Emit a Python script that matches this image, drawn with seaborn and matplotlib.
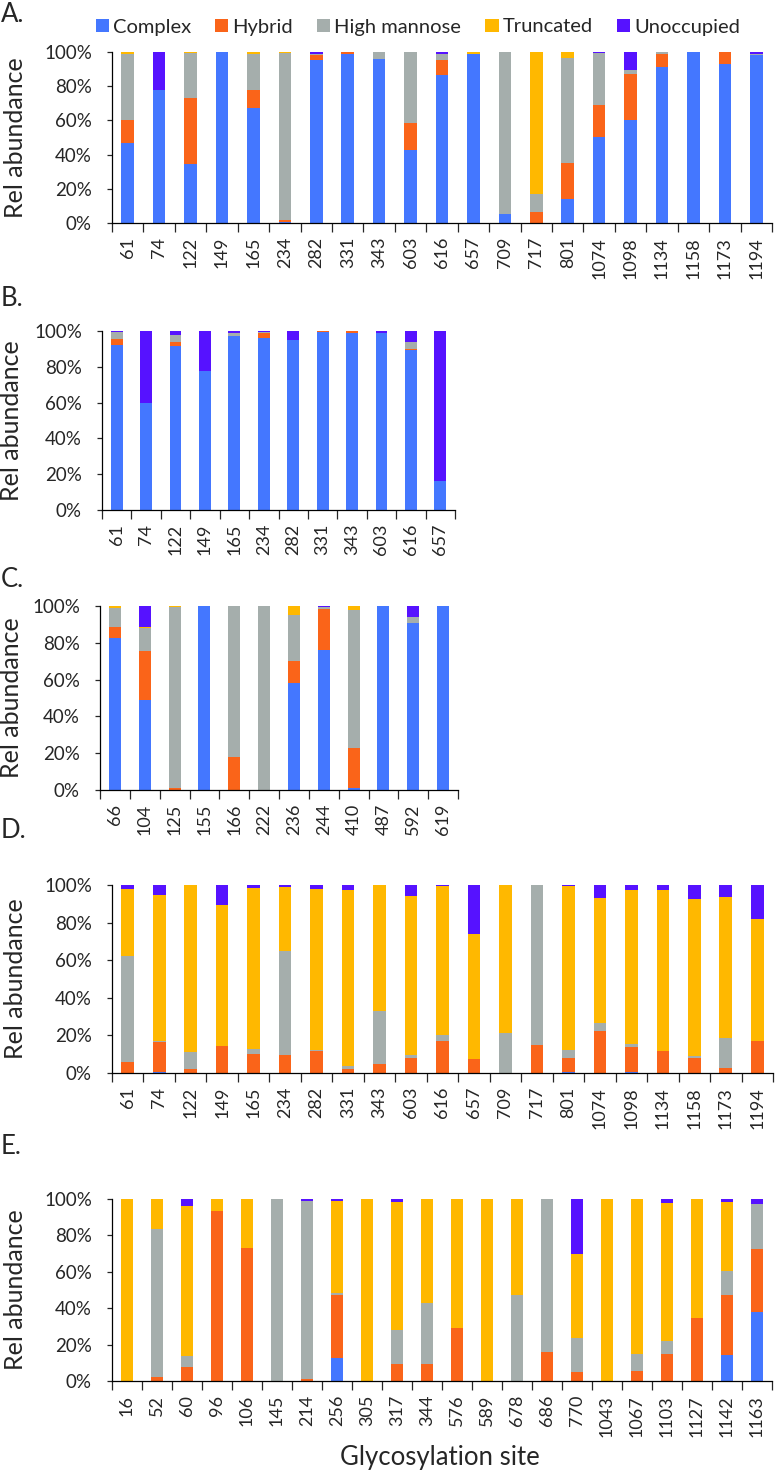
import numpy as np
import pandas as pd
import seaborn as sns
import matplotlib
matplotlib.use('Agg')
import matplotlib.pyplot as plt
from matplotlib.patches import Patch

sns.set_style('ticks')
plt.rcParams['font.family'] = ['Lato', 'DejaVu Sans']

cats = ['Complex', 'Hybrid', 'High mannose', 'Truncated', 'Unoccupied']
colors = {'Complex': '#4477FF', 'Hybrid': '#FA6419', 'High mannose': '#A5AEAC',
          'Truncated': '#FFB800', 'Unoccupied': '#5612FF'}

# panel A
sites_a = [61, 74, 122, 149, 165, 234, 282, 331, 343, 603, 616, 657, 709, 717, 801,
           1074, 1098, 1134, 1158, 1173, 1194]
complex_a = [47, 78, 34.5, 100, 67.5, 0.5, 95.5, 98.6, 96, 42.5, 86.5, 99, 5.5, 0, 14,
             50.5, 60.5, 91, 100, 93, 98]
hybrid_a = [13, 0, 38.5, 0, 10.5, 1.5, 2.5, 1.4, 0, 16, 9, 0, 0, 6.5, 21,
            18.5, 26.5, 8, 0, 7, 0]
highman_a = [39, 0, 26.5, 0, 21, 97.4, 1, 0, 4, 41.5, 3.5, 0, 94.5, 10.5, 61.7,
             30.5, 2.3, 1, 0, 0, 1]
trunc_a = [1, 0, 0.5, 0, 1, 0.6, 0, 0, 0, 0, 0, 1, 0, 83, 3.3, 0, 0, 0, 0, 0, 0]
unocc_a = [0, 22, 0, 0, 0, 0, 1, 0, 0, 0, 1, 0, 0, 0, 0, 0.5, 10.7, 0, 0, 0, 1]

# panel B
sites_b = [61, 74, 122, 149, 165, 234, 282, 331, 343, 603, 616, 657]
complex_b = [92, 60, 91.5, 77.5, 97, 96.3, 94.8, 99.6, 98.9, 99.1, 89.6, 16]
hybrid_b = [3.8, 0, 2.5, 0, 0, 2.4, 0, 0.4, 1.1, 0, 0.5, 0]
highman_b = [3.8, 0, 4, 0, 1.7, 0.6, 0.4, 0, 0, 0, 3.8, 0]
trunc_b = [0, 0, 0, 0, 0, 0, 0, 0, 0, 0, 0, 0]
unocc_b = [0.4, 40, 2, 22.5, 1.3, 0.7, 4.8, 0, 0, 0.9, 6.1, 84]

# panel C
sites_c = [66, 104, 125, 155, 166, 222, 236, 244, 410, 487, 592, 619]
complex_c = [82.8, 48.8, 0, 100, 0, 0, 58.2, 76.1, 1.3, 100, 90.8, 100]
hybrid_c = [5.6, 26.6, 0.9, 0, 17.9, 0, 12.1, 22.1, 21.5, 0, 0, 0]
highman_c = [10.7, 12.8, 98.4, 0, 82.1, 100, 25, 1.1, 75, 0, 3.1, 0]
trunc_c = [0.9, 0.4, 0.7, 0, 0, 0, 4.7, 0, 2.2, 0, 0, 0]
unocc_c = [0, 11.4, 0, 0, 0, 0, 0, 0.7, 0, 0, 6.1, 0]

# panel D
sites_d = [61, 74, 122, 149, 165, 234, 282, 331, 343, 603, 616, 657, 709, 717, 801,
           1074, 1098, 1134, 1158, 1173, 1194]
complex_d = [0, 0.6, 0, 0, 0, 0, 0, 0, 0, 0, 0, 0, 0, 0, 0.5, 0, 0.5, 0, 0, 0, 0]
hybrid_d = [5.7, 16, 1.9, 14.5, 9.9, 9.6, 11.5, 2.1, 5, 8.2, 17.2, 7.6, 0, 14.7, 7.7,
            22.1, 13.3, 11.6, 8.2, 2.8, 16.9]
highman_d = [56.8, 0.6, 9.4, 0, 2.7, 55.4, 0.5, 1.6, 28.1, 1.4, 3, 0, 21.2, 85.3, 4.2,
             4.3, 1.8, 0, 1, 16, 0]
trunc_d = [35.2, 77.7, 88.7, 74.9, 86, 33.8, 85.9, 93.8, 66.9, 84.6, 79.4, 66.2, 78.8, 0,
           87.2, 66.5, 81.7, 85.7, 83.2, 75, 65.2]
unocc_d = [2.3, 5.1, 0, 10.6, 1.4, 1.2, 2.1, 2.5, 0, 5.8, 0.4, 26.2, 0, 0, 0.4,
           7.1, 2.7, 2.7, 7.6, 6.2, 17.9]

# panel E
sites_e = [16, 52, 60, 96, 106, 145, 214, 256, 305, 317, 344, 576, 589, 678, 686, 770,
           1043, 1067, 1103, 1127, 1142, 1163]
complex_e = [0, 0, 0, 0, 0, 0, 0, 12.9, 0, 0, 0, 0, 0, 0, 0, 0, 0, 0, 0, 0, 14.2, 38.1]
hybrid_e = [0, 2.4, 7.5, 93.6, 73.2, 0, 1.1, 34.2, 0, 9.2, 9.2, 28.9, 0, 0, 16.2, 4.8,
            0, 5.3, 14.7, 34.6, 33.2, 34.7]
highman_e = [0, 81.1, 6.5, 0, 0, 100, 97.8, 1.1, 0, 18.7, 33.6, 0, 0, 47.2, 83.8, 19.1,
             0, 9.6, 7.2, 0, 13.1, 24.6]
trunc_e = [100, 16.5, 82, 6.4, 26.8, 0, 0, 50.5, 100, 70.6, 57.2, 71.1, 100, 52.8, 0, 46.1,
           100, 85.1, 75.9, 65.4, 38, 0]
unocc_e = [0, 0, 4, 0, 0, 0, 1.1, 1.3, 0, 1.5, 0, 0, 0, 0, 0, 30, 0, 0, 2.2, 0, 1.5, 2.6]

W, H = 776, 1477
fig = plt.figure(figsize=(W / 100, H / 100), dpi=100)


def add_ax(l, t, r, b):
    return fig.add_axes([l / W, 1 - b / H, (r - l) / W, (b - t) / H])


def draw_panel(ax, sites, vals, label_x):
    df = pd.DataFrame({'site': [str(s) for s in sites]})
    for c, v in zip(cats, vals):
        df[c] = v
    cum = df[cats].cumsum(axis=1)
    order = list(df['site'])
    # draw cumulative totals from the top down so they look stacked
    for c in reversed(cats):
        sns.barplot(x=df['site'], y=cum[c], order=order, color=colors[c], width=0.4,
                    saturation=1, errorbar=None, ax=ax, linewidth=0)
    n = len(sites)
    ax.set_xlim(-0.5, n - 0.5)
    ax.set_ylim(0, 100)
    ax.set_yticks(range(0, 101, 20))
    ax.set_yticklabels([f'{v}%' for v in range(0, 101, 20)], fontsize=13.5)
    ax.set_xticks(range(n))
    ax.set_xticklabels(order, rotation=90, fontsize=13)
    ax.tick_params(axis='x', which='major', length=0, pad=10)
    ax.set_xticks(np.arange(-0.5, n), minor=True)
    ax.tick_params(axis='x', which='minor', length=6.5, width=0.9, direction='out')
    ax.tick_params(axis='y', length=3.5, width=0.9, pad=11)
    ax.set_xlabel('')
    ax.set_ylabel('Rel abundance', fontsize=18)
    pos = ax.get_position()
    ax.yaxis.set_label_coords((label_x / W - pos.x0) / pos.width, 0.5)
    sns.despine(ax=ax)
    for s in ['left', 'bottom']:
        ax.spines[s].set_linewidth(0.9)
        ax.spines[s].set_color('black')


ax_a = add_ax(112, 52, 772, 223)
draw_panel(ax_a, sites_a, [complex_a, hybrid_a, highman_a, trunc_a, unocc_a], 27)
ax_b = add_ax(102, 331, 455, 510)
draw_panel(ax_b, sites_b, [complex_b, hybrid_b, highman_b, trunc_b, unocc_b], 23)
ax_c = add_ax(100, 606, 458, 790)
draw_panel(ax_c, sites_c, [complex_c, hybrid_c, highman_c, trunc_c, unocc_c], 23)
ax_d = add_ax(112, 885, 773, 1073)
draw_panel(ax_d, sites_d, [complex_d, hybrid_d, highman_d, trunc_d, unocc_d], 27)
ax_e = add_ax(112, 1199, 772, 1381)
draw_panel(ax_e, sites_e, [complex_e, hybrid_e, highman_e, trunc_e, unocc_e], 27)

for letter, y in [('A.', 14), ('B.', 298), ('C.', 580), ('D.', 830), ('E.', 1146)]:
    fig.text(1 / W, 1 - y / H, letter, fontsize=18.5, ha='left', va='center')

fig.text(440 / W, 1 - 1457 / H, 'Glycosylation site', fontsize=18.5, ha='center', va='center')

handles = [Patch(facecolor=colors[c], edgecolor='none', label=c) for c in cats]
fig.legend(handles=handles, loc='center left', bbox_to_anchor=(96 / W, 1 - 27 / H),
           ncol=5, frameon=False, fontsize=14.5, handlelength=0.65, handleheight=0.65,
           handletextpad=0.2, columnspacing=1.2, borderpad=0, borderaxespad=0)

fig.savefig('out.png', dpi=100)
